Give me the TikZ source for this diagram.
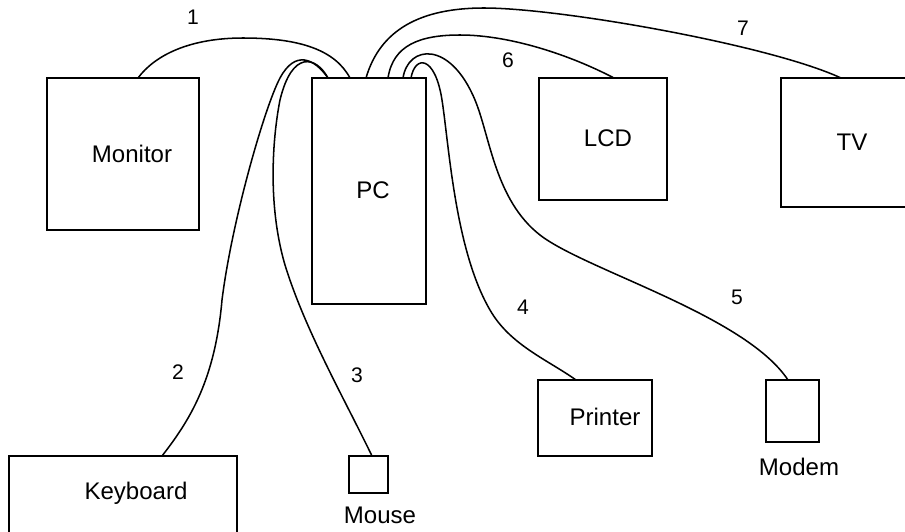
\documentclass[tikz,border=0pt]{standalone}
\usepackage{fontspec}
\setmainfont{Liberation Sans}
\usetikzlibrary{calc}
\newcommand\pxu{0.03cm}
\begin{document}
\begin{tikzpicture}[x=0.03cm,y=-0.03cm,
  devbox/.style={draw,line width=1.3pt,inner sep=0pt,outer sep=0pt},
  devtxt/.style={inner sep=0pt,font=\fontsize{20.5}{21}\selectfont},
  numtxt/.style={inner sep=0pt,font=\fontsize{18}{19}\selectfont},
  cable/.style={line width=1.3pt}]
\useasboundingbox (0,0) rectangle (905,531);
\clip (0,0) rectangle (905,531);
% boxes
\node[devbox,minimum width=152*\pxu,minimum height=152*\pxu] (mon) at (123,154) {};
\node[devbox,minimum width=114*\pxu,minimum height=226*\pxu] (pc) at (369,191) {};
\node[devbox,minimum width=128*\pxu,minimum height=122*\pxu] (lcd) at (603,139) {};
\node[devbox,minimum width=134*\pxu,minimum height=129*\pxu] (tv) at (848,142.5) {};
\node[devbox,minimum width=228*\pxu,minimum height=84*\pxu] (kbd) at (123,498) {};
\node[devbox,minimum width=39*\pxu,minimum height=37*\pxu] (mouse) at (368.5,474.5) {};
\node[devbox,minimum width=114*\pxu,minimum height=76*\pxu] (prn) at (595,418) {};
\node[devbox,minimum width=53*\pxu,minimum height=62*\pxu] (modem) at (792.5,411) {};
% texts
\node[devtxt] (monT) at (132,154) {Monitor};
\node[devtxt] (pcT) at (373,190) {PC};
\node[devtxt] (lcdT) at (608,138) {LCD};
\node[devtxt] (tvT) at (852,142) {TV};
\node[devtxt] (kbdT) at (136,493) {Keyboard};
\node[devtxt] (mouseT) at (380,515) {Mouse};
\node[devtxt] (prnT) at (605,417) {Printer};
\node[devtxt] (modemT) at (799,467) {Modem};
% cable numbers
\node[numtxt] (l1) at (193,17) {1};
\node[numtxt] (l2) at (178,372) {2};
\node[numtxt] (l3) at (357,375) {3};
\node[numtxt] (l4) at (523,307) {4};
\node[numtxt] (l5) at (737,297) {5};
\node[numtxt] (l6) at (508,60) {6};
\node[numtxt] (l7) at (743,28) {7};
% end points
\coordinate (m1) at ($(mon.north west)+(91,0)$);
\coordinate (p1) at ($(pc.north west)+(38,0)$);
\coordinate (p23) at ($(pc.north west)+(16,0)$);
\coordinate (k2) at ($(kbd.north west)+(153,0)$);
\coordinate (ms3) at ($(mouse.north west)+(23,0)$);
\coordinate (p4) at ($(pc.north west)+(99,0)$);
\coordinate (pr4) at ($(prn.north west)+(38,0)$);
\coordinate (p5) at ($(pc.north west)+(91,0)$);
\coordinate (md5) at ($(modem.north west)+(22,0)$);
\coordinate (p6) at ($(pc.north west)+(76,0)$);
\coordinate (lc6) at ($(lcd.north west)+(75,0)$);
\coordinate (p7) at ($(pc.north west)+(54,0)$);
\coordinate (tv7) at ($(tv.north west)+(60,0)$);
% cables
\draw[cable] (m1) .. controls (155,55) and (190,38) .. (243,38)
  .. controls (300,38) and (335,50) .. (p1);
\draw[cable] (p23) .. controls (314,58) and (295,50) .. (280,78)
  .. controls (265,106) and (232,220) .. (222,300)
  .. controls (215,380) and (190,420) .. (k2);
\draw[cable] (p23) .. controls (316,56) and (292,50) .. (280,100)
  .. controls (274,130) and (266,200) .. (285,265)
  .. controls (305,330) and (345,400) .. (ms3);
\draw[cable] (p4) .. controls (415,55) and (435,55) .. (442,100)
  .. controls (449,145) and (455,250) .. (490,310)
  .. controls (510,345) and (548,360) .. (pr4);
\draw[cable] (p5) .. controls (408,45) and (450,40) .. (475,100)
  .. controls (490,136) and (495,200) .. (540,235)
  .. controls (585,270) and (745,315) .. (md5);
\draw[cable] (p6) .. controls (393,45) and (420,35) .. (460,35)
  .. controls (510,35) and (570,55) .. (lc6);
\draw[cable] (p7) .. controls (380,30) and (420,8) .. (484,8)
  .. controls (560,8) and (770,45) .. (tv7);
\end{tikzpicture}
\end{document}
